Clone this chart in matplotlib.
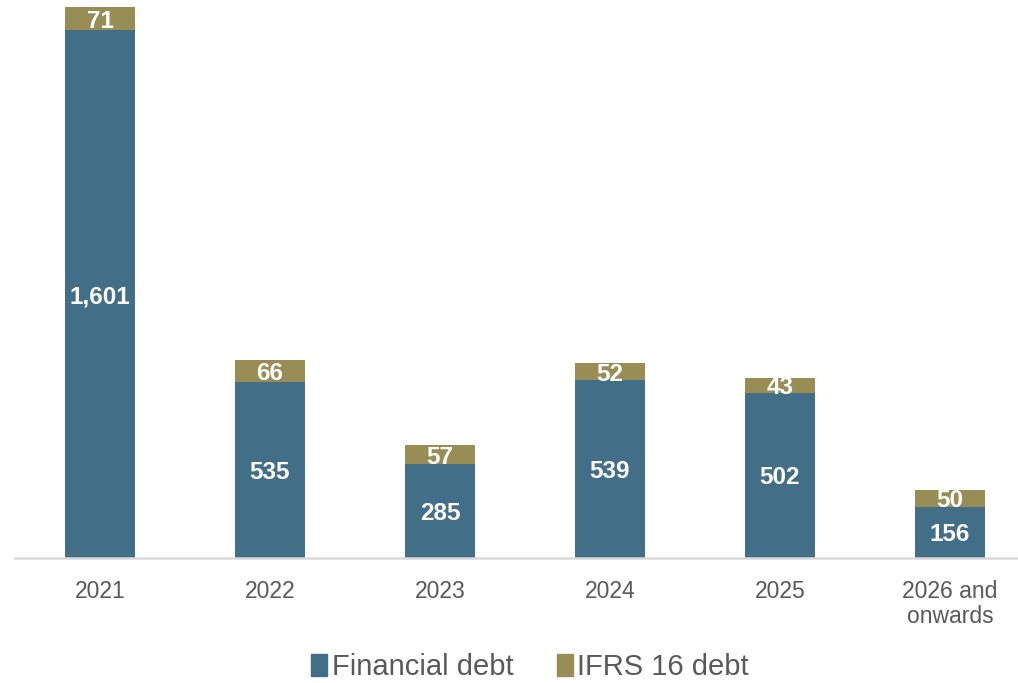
import matplotlib
matplotlib.use("Agg")
import matplotlib.pyplot as plt
from matplotlib.patches import Patch

plt.rcParams["font.family"] = ["Liberation Sans", "DejaVu Sans"]

categories = ["2021", "2022", "2023", "2024", "2025", "2026 and\nonwards"]
financial_debt = [1601, 535, 285, 539, 502, 156]
ifrs16_debt = [71, 66, 57, 52, 43, 50]

col_fin = "#436E87"
col_ifrs = "#978D55"

fig = plt.figure(figsize=(10.18, 6.83), dpi=100)
ax = fig.add_axes([15 / 1018, 125 / 683, 1003 / 1018, 558 / 683])

x = list(range(len(categories)))
w = 0.41
ax.bar(x, financial_debt, width=w, color=col_fin, zorder=2)
ax.bar(x, ifrs16_debt, width=w, bottom=financial_debt, color=col_ifrs, zorder=2)

for i in x:
    ax.text(i, financial_debt[i] / 2, f"{financial_debt[i]:,}", ha="center",
            va="center_baseline", color="white", fontsize=17.5, fontweight="bold")
    ax.text(i, financial_debt[i] + ifrs16_debt[i] / 2, f"{ifrs16_debt[i]:,}", ha="center",
            va="center_baseline", color="white", fontsize=17.5, fontweight="bold")

ax.set_xlim(-0.5, 5.4)
ax.set_ylim(0, 1693)
ax.set_xticks(x)
ax.set_xticklabels(categories, fontsize=16.5, color="#595959", linespacing=1.1)
ax.tick_params(axis="x", length=0, pad=16)
ax.set_yticks([])
for s in ["top", "right", "left"]:
    ax.spines[s].set_visible(False)
ax.spines["bottom"].set_color("#D9D9D9")
ax.spines["bottom"].set_linewidth(1.8)

handles = [Patch(color=col_fin, label="Financial debt"),
           Patch(color=col_ifrs, label="IFRS 16 debt")]
fig.legend(handles=handles, loc="center", bbox_to_anchor=(530 / 1018, 1 - 667 / 683),
           ncol=2, frameon=False, fontsize=21, handlelength=0.55, handleheight=0.75,
           handletextpad=0.15, columnspacing=1.5, labelcolor="#595959")

fig.savefig("out.png", dpi=100)
